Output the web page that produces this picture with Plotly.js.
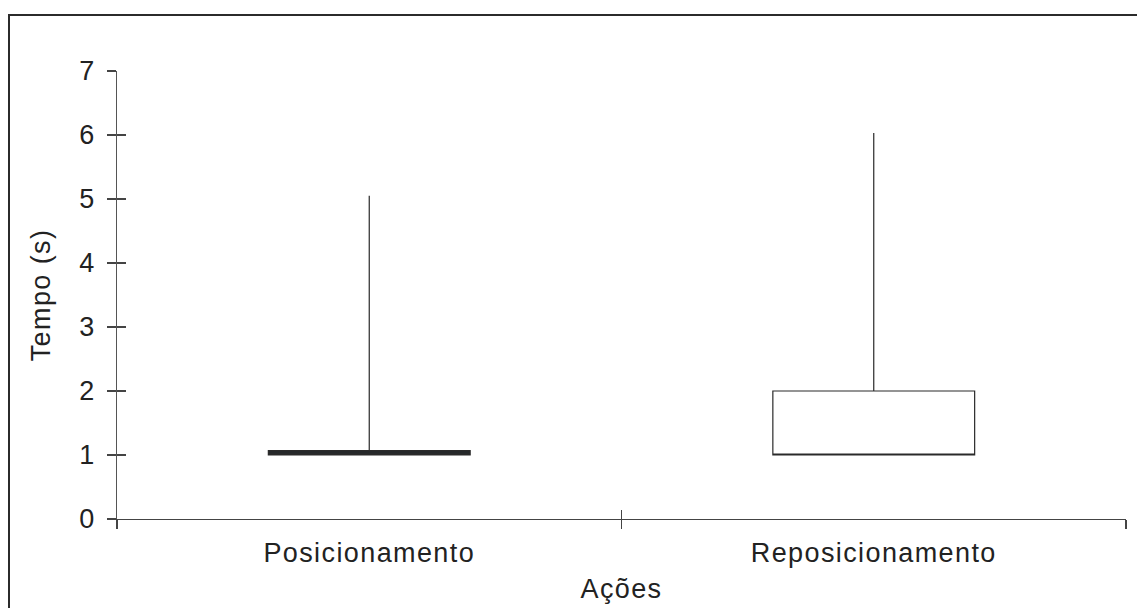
<!DOCTYPE html>
<html>
<head>
<meta charset="utf-8">
<script src="https://cdn.plot.ly/plotly-3.0.1.min.js"></script>
<style>
  html, body { margin:0; padding:0; background:#fff; overflow:hidden; }
  #wrap { position:relative; width:1137px; height:608px; }
  #frame { position:absolute; left:8px; top:14px; width:1200px; height:700px; border-left:2px solid #2b2b2b; border-top:2px solid #2b2b2b; pointer-events:none; }
  #chart { position:absolute; left:0; top:0; width:1137px; height:608px; }
  #chart .xtick text, #chart .xtitle, #chart .ytitle { letter-spacing: 1.4px; }
</style>
</head>
<body>
<div id="wrap">
  <div id="chart"></div>
  <div id="frame"></div>
</div>
<script>
const categories = ['Posicionamento', 'Reposicionamento'];
const lowerFence = [1, 1];
const q1 = [1, 1];
const median = [1, 1];
const q3 = [1.07, 2];
const upperFence = [5.05, 6.03];
const fillColors = ['#25282a', '#ffffff'];
const yTickVals = [0, 1, 2, 3, 4, 5, 6, 7];

const FONT = 'Liberation Sans, Arial, Helvetica, sans-serif';
const FS = 27;
const traces = categories.map((c, i) => ({
  type: 'box',
  x: [c],
  q1: [q1[i]],
  median: [median[i]],
  q3: [q3[i]],
  lowerfence: [lowerFence[i]],
  upperfence: [upperFence[i]],
  width: 0.4,
  whiskerwidth: 0,
  fillcolor: fillColors[i],
  line: { color: '#2a2a2a', width: 1.2 },
  showlegend: false,
  hoverinfo: 'skip'
}));
// empty trace to instantiate overlay axes (for crossing ticks)
traces.push({ type: 'scatter', x: [], y: [], xaxis: 'x2', yaxis: 'y2', showlegend: false, hoverinfo: 'skip' });

const layout = {
  width: 1137, height: 608,
  margin: { l: 117, r: 11, t: 71, b: 89 },
  paper_bgcolor: '#ffffff', plot_bgcolor: '#ffffff',
  font: { family: FONT, size: FS, color: '#222' },
  boxmode: 'overlay',
  xaxis: {
    type: 'category',
    categoryarray: categories,
    range: [-0.5, 1.5],
    showgrid: false, zeroline: false,
    showline: true, linecolor: '#444', linewidth: 1.2,
    ticks: 'outside', tickson: 'boundaries', ticklen: 9, tickcolor: '#444', tickwidth: 1.2,
    tickfont: { family: FONT, size: FS, color: '#222' },
    ticklabelstandoff: 9,
    title: { text: 'Ações', font: { family: FONT, size: FS, color: '#222' }, standoff: 12 },
    fixedrange: true
  },
  yaxis: {
    range: [0, 7],
    tickvals: yTickVals,
    showgrid: false, zeroline: false,
    showline: true, linecolor: '#555', linewidth: 1.2,
    ticks: 'outside', ticklen: 9, tickcolor: '#444', tickwidth: 1.2,
    tickfont: { family: FONT, size: FS, color: '#222' },
    ticklabelstandoff: 7,
    title: { text: 'Tempo (s)', font: { family: FONT, size: FS, color: '#222' }, standoff: 21 },
    fixedrange: true
  },
  xaxis2: {
    overlaying: 'x', anchor: 'y2', side: 'bottom',
    range: [-0.5, 1.5], tickvals: [-0.5, 0.5, 1.5],
    showticklabels: false, showgrid: false, zeroline: false, showline: false,
    ticks: 'inside', ticklen: 9, tickcolor: '#444', tickwidth: 1.2,
    fixedrange: true
  },
  yaxis2: {
    overlaying: 'y', anchor: 'x2', side: 'left',
    range: [0, 7], tickvals: yTickVals,
    showticklabels: false, showgrid: false, zeroline: false, showline: false,
    ticks: 'inside', ticklen: 9, tickcolor: '#444', tickwidth: 1.2,
    fixedrange: true
  }
};

Plotly.newPlot('chart', traces, layout, { displayModeBar: false, staticPlot: true });
</script>
</body>
</html>
